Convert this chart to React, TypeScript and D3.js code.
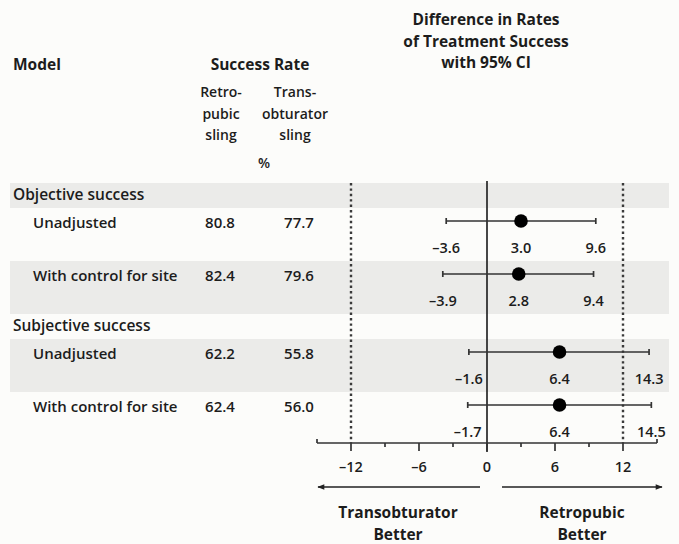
import React from 'react';
import * as d3 from 'd3';

const sections = ['Objective success', 'Subjective success'];
const models = ['Unadjusted', 'With control for site', 'Unadjusted', 'With control for site'];
const modelSection = [0, 0, 1, 1];
const retropubic = [80.8, 82.4, 62.2, 62.4];
const transobturator = [77.7, 79.6, 55.8, 56.0];
const estimate = [3.0, 2.8, 6.4, 6.4];
const lower = [-3.6, -3.9, -1.6, -1.7];
const upper = [9.6, 9.4, 14.3, 14.5];
const majorTicks = [-12, -6, 0, 6, 12];
const minorTicks = [-9, -3, 3, 9];
const marginLines = [-12, 12];
const axisDomain = [-15, 15];
const titleLines = ['Difference in Rates', 'of Treatment Success', 'with 95% CI'];
const retroHeader = ['Retro-', 'pubic', 'sling'];
const transHeader = ['Trans-', 'obturator', 'sling'];

const W = 679;
const H = 544;
const FONT = "'Open Sans', 'Noto Sans', sans-serif";
const INK = '#1c1c1c';
const GRAY = '#ebebe9';
const BODY_W = 600;

const fmt = (v: number) => (v < 0 ? '\u2013' : '') + d3.format('.1f')(Math.abs(v));
const fmtTick = (v: number) => (v < 0 ? '\u2013' + Math.abs(v) : String(v));

type Item = { kind: 'section' | 'row'; i: number; top: number; h: number };

function buildLayout(): Item[] {
  const items: Item[] = [];
  let y = 183;
  sections.forEach((_, s) => {
    items.push({ kind: 'section', i: s, top: y, h: 25 });
    y += 25;
    models.forEach((_, m) => {
      if (modelSection[m] === s) {
        items.push({ kind: 'row', i: m, top: y, h: 53 });
        y += 53;
      }
    });
  });
  return items;
}

export default function App() {
  const x = d3.scaleLinear().domain(axisDomain).range([317, 657]);
  const items = buildLayout();
  const axisY = 443;
  const plotTop = 183;
  const bandLeft = 10;
  const bandRight = 669;

  return (
    <svg
      width={W}
      height={H}
      viewBox={`0 0 ${W} ${H}`}
      style={{ position: 'absolute', left: 0, top: 0 }}
      fontFamily={FONT}
    >
      <rect x={0} y={0} width={W} height={H} fill="#fcfcfa" />

      {/* bands */}
      {items.map((it, k) =>
        k % 2 === 0 ? (
          <rect key={'b' + k} x={bandLeft} y={it.top} width={bandRight - bandLeft} height={it.h} fill={GRAY} />
        ) : null
      )}

      {/* headers */}
      <text x={13} y={70} fontSize={15.5} fontWeight={700} fill={INK}>Model</text>
      <text x={260} y={70} fontSize={15.5} fontWeight={700} fill={INK} textAnchor="middle">Success Rate</text>
      {retroHeader.map((t, k) => (
        <text key={'r' + k} x={221} y={97 + k * 21.5} fontSize={14} fontWeight={BODY_W} fill={INK} textAnchor="middle">{t}</text>
      ))}
      {transHeader.map((t, k) => (
        <text key={'t' + k} x={295} y={97 + k * 21.5} fontSize={14} fontWeight={BODY_W} fill={INK} textAnchor="middle">{t}</text>
      ))}
      <text x={264} y={168} fontSize={14} fontWeight={BODY_W} fill={INK} textAnchor="middle">%</text>
      {titleLines.map((t, k) => (
        <text key={'h' + k} x={486} y={25 + k * 21.5} fontSize={15.5} fontWeight={700} fill={INK} textAnchor="middle">{t}</text>
      ))}

      {/* reference lines */}
      {marginLines.map((v) => (
        <line key={'m' + v} x1={x(v)} x2={x(v)} y1={plotTop} y2={axisY} stroke="#3a3a3a" strokeWidth={2.4} strokeDasharray="2.4,3" />
      ))}
      <line x1={x(0)} x2={x(0)} y1={181} y2={axisY + 9} stroke="#262626" strokeWidth={1.7} />

      {/* rows */}
      {items.map((it, k) => {
        if (it.kind === 'section') {
          return (
            <text key={'s' + k} x={13} y={it.top + 17} fontSize={15.5} fontWeight={BODY_W} fill={INK}>{sections[it.i]}</text>
          );
        }
        const i = it.i;
        const cy = it.top + 13;
        const ly = it.top + 45;
        return (
          <g key={'row' + k}>
            <text x={33} y={it.top + 20} fontSize={15} fontWeight={BODY_W} fill={INK}>{models[i]}</text>
            <text x={220} y={it.top + 20} fontSize={15} fontWeight={BODY_W} fill={INK} textAnchor="middle">{fmt(retropubic[i])}</text>
            <text x={299} y={it.top + 20} fontSize={15} fontWeight={BODY_W} fill={INK} textAnchor="middle">{fmt(transobturator[i])}</text>
            <line x1={x(lower[i])} x2={x(upper[i])} y1={cy} y2={cy} stroke="#333" strokeWidth={1.7} />
            <line x1={x(lower[i])} x2={x(lower[i])} y1={cy - 3} y2={cy + 3} stroke="#333" strokeWidth={1.7} />
            <line x1={x(upper[i])} x2={x(upper[i])} y1={cy - 3} y2={cy + 3} stroke="#333" strokeWidth={1.7} />
            <circle cx={x(estimate[i])} cy={cy} r={6.8} fill="#000" />
            <text x={x(lower[i])} y={ly} fontSize={14.5} fontWeight={BODY_W} fill={INK} textAnchor="middle">{fmt(lower[i])}</text>
            <text x={x(estimate[i])} y={ly} fontSize={14.5} fontWeight={BODY_W} fill={INK} textAnchor="middle">{fmt(estimate[i])}</text>
            <text x={x(upper[i])} y={ly} fontSize={14.5} fontWeight={BODY_W} fill={INK} textAnchor="middle">{fmt(upper[i])}</text>
          </g>
        );
      })}

      {/* axis */}
      <line x1={x(axisDomain[0])} x2={x(axisDomain[1])} y1={axisY} y2={axisY} stroke="#333" strokeWidth={1.7} />
      {axisDomain.map((v) => (
        <line key={'e' + v} x1={x(v)} x2={x(v)} y1={axisY - 4} y2={axisY} stroke="#333" strokeWidth={1.7} />
      ))}
      {majorTicks.map((v) => (
        <g key={'M' + v}>
          <line x1={x(v)} x2={x(v)} y1={axisY} y2={axisY + 8} stroke="#333" strokeWidth={1.7} />
          <text x={x(v)} y={472} fontSize={14.5} fontWeight={BODY_W} fill={INK} textAnchor="middle">{fmtTick(v)}</text>
        </g>
      ))}
      {minorTicks.map((v) => (
        <line key={'n' + v} x1={x(v)} x2={x(v)} y1={axisY} y2={axisY + 4} stroke="#333" strokeWidth={1.7} />
      ))}

      {/* direction arrows */}
      <defs>
        <marker id="ah" viewBox="0 0 10 10" refX={9} refY={5} markerWidth={9} markerHeight={7} markerUnits="userSpaceOnUse" orient="auto">
          <path d="M0,1 L10,5 L0,9 Z" fill="#222" />
        </marker>
      </defs>
      <line x1={x(0) - 7} x2={x(axisDomain[0]) + 1} y1={487} y2={487} stroke="#222" strokeWidth={1.7} markerEnd="url(#ah)" />
      <line x1={x(0) + 15} x2={x(axisDomain[1]) + 5} y1={487} y2={487} stroke="#222" strokeWidth={1.7} markerEnd="url(#ah)" />
      <text x={398} y={518} fontSize={15.5} fontWeight={700} fill={INK} textAnchor="middle">Transobturator</text>
      <text x={398} y={540} fontSize={15.5} fontWeight={700} fill={INK} textAnchor="middle">Better</text>
      <text x={582} y={518} fontSize={15.5} fontWeight={700} fill={INK} textAnchor="middle">Retropubic</text>
      <text x={582} y={540} fontSize={15.5} fontWeight={700} fill={INK} textAnchor="middle">Better</text>
    </svg>
  );
}
